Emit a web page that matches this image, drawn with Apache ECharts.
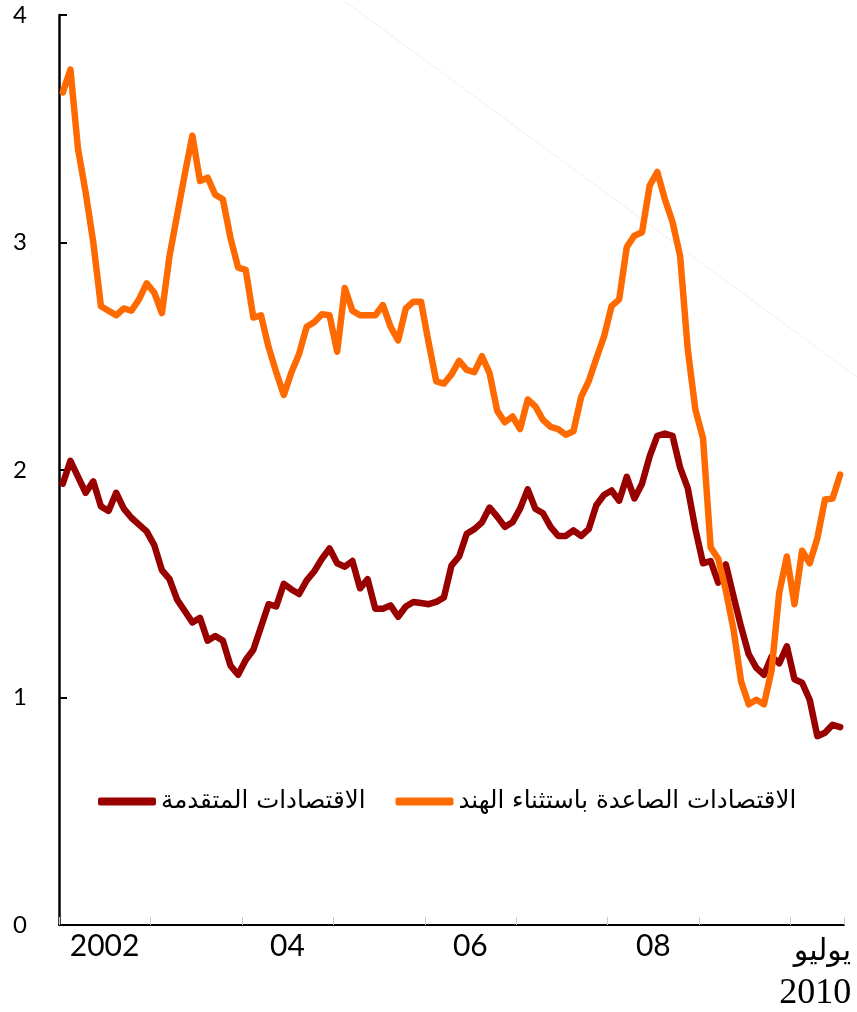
<!DOCTYPE html>
<html>
<head>
<meta charset="utf-8">
<script src="https://cdn.jsdelivr.net/npm/echarts@6/dist/echarts.min.js"></script>
<style>html,body{margin:0;padding:0;background:#fff}#c{width:857px;height:1012px}</style>
</head>
<body>
<div id="c"></div>
<script>
// Monthly categories Jan 2002 .. Jul 2010
const months = [];
for (let y = 2002; y <= 2010; y++) {
  for (let m = 1; m <= 12; m++) {
    if (y === 2010 && m > 7) break;
    months.push(y + '-' + (m < 10 ? '0' + m : m));
  }
}
const seriesNames = ['الاقتصادات المتقدمة', 'الاقتصادات الصاعدة باستثناء الهند'];
const advanced = [
  1.94, 2.04, 1.97, 1.90, 1.95, 1.84, 1.82, 1.90, 1.83, 1.79, 1.76, 1.73,
  1.67, 1.56, 1.52, 1.43, 1.38, 1.33, 1.35, 1.25, 1.27, 1.25, 1.14, 1.10,
  1.165, 1.21, 1.31, 1.41, 1.40, 1.50, 1.475, 1.455, 1.515, 1.555, 1.61, 1.655,
  1.59, 1.575, 1.60, 1.48, 1.52, 1.39, 1.39, 1.405, 1.355, 1.40, 1.42, 1.415,
  1.41, 1.42, 1.44, 1.58, 1.62, 1.72, 1.74, 1.77, 1.835, 1.795, 1.75, 1.77,
  1.83, 1.915, 1.83, 1.81, 1.75, 1.71, 1.71, 1.735, 1.71, 1.74, 1.845, 1.89,
  1.91, 1.865, 1.97, 1.875, 1.94, 2.06, 2.15, 2.16, 2.15, 2.01, 1.92, 1.74,
  1.59, 1.60, 1.505, 1.585, 1.445, 1.31, 1.19, 1.13, 1.10, 1.18, 1.15, 1.225,
  1.08, 1.065, 0.99, 0.83, 0.845, 0.88, 0.87
];
const emergingExIndia = [
  3.66, 3.76, 3.41, 3.22, 3.00, 2.72, 2.70, 2.68, 2.71, 2.70, 2.75, 2.82,
  2.78, 2.69, 2.94, 3.12, 3.30, 3.47, 3.27, 3.285, 3.21, 3.19, 3.02, 2.89,
  2.88, 2.67, 2.68, 2.54, 2.43, 2.33, 2.43, 2.51, 2.63, 2.65, 2.685, 2.68,
  2.52, 2.80, 2.70, 2.68, 2.68, 2.68, 2.725, 2.63, 2.57, 2.71, 2.74, 2.74,
  2.56, 2.39, 2.38, 2.42, 2.48, 2.44, 2.43, 2.50, 2.425, 2.26, 2.21, 2.235,
  2.18, 2.31, 2.28, 2.22, 2.19, 2.18, 2.155, 2.17, 2.32, 2.39, 2.49, 2.585,
  2.72, 2.75, 2.98, 3.03, 3.045, 3.25, 3.31, 3.19, 3.09, 2.94, 2.53, 2.265,
  2.14, 1.66, 1.61, 1.47, 1.30, 1.07, 0.97, 0.99, 0.97, 1.12, 1.46, 1.62,
  1.41, 1.645, 1.59, 1.70, 1.87, 1.875, 1.98
];
const xLabelIndex = [6, 30, 54, 78, 102];
const xLabelText = ['2002', '04', '06', '08', '{a|يوليو}\n{b|2010}'];
const yTicks = [0, 1, 2, 3, 4];

const catData = months.map((m, i) => {
  if (i === months.length - 1) {
    return { value: m, textStyle: { padding: [0, 50, 0, 0] } };
  }
  return m;
});

const chart = echarts.init(document.getElementById('c'), null, { renderer: 'canvas' });
chart.setOption({
  backgroundColor: '#ffffff',
  animation: false,
  grid: { left: 59, right: 13, top: 15, bottom: 87, containLabel: false },
  legend: {
    data: seriesNames,
    left: 93, top: 784,
    itemWidth: 58, itemHeight: 8, itemGap: 30,
    icon: 'roundRect',
    textStyle: { fontSize: 24.5, color: '#000', fontFamily: 'DejaVu Sans' }
  },
  graphic: [{
    type: 'line', z: 0, silent: true,
    shape: { x1: 343, y1: 0, x2: 857, y2: 377 },
    style: { stroke: '#eef0ee', lineWidth: 1 }
  }],
  xAxis: {
    type: 'category',
    data: catData,
    boundaryGap: true,
    axisLine: { show: true, lineStyle: { color: '#000', width: 2 } },
    axisTick: {
      show: true, inside: true, length: 8,
      interval: (i) => i % 12 === 0,
      lineStyle: { color: '#c5ccd6', width: 1 }
    },
    axisLabel: {
      interval: (i) => xLabelIndex.indexOf(i) >= 0,
      formatter: (v, i) => {
        const k = xLabelIndex.indexOf(i);
        return k >= 0 ? xLabelText[k] : '';
      },
      color: '#000', fontSize: 30, fontFamily: 'Lato', margin: 6,
      padding: [0, 8, 0, 0],
      rich: {
        a: { fontSize: 30, fontFamily: 'DejaVu Sans', lineHeight: 42, align: 'right', color: '#000' },
        b: { fontSize: 36, fontFamily: 'Liberation Serif', lineHeight: 42, align: 'right', color: '#000' }
      }
    },
    splitLine: { show: false }
  },
  yAxis: {
    type: 'value', min: 0, max: 4, interval: 1,
    axisLine: { show: true, lineStyle: { color: '#000', width: 2.5 } },
    axisTick: { show: true, inside: true, length: 8, lineStyle: { color: '#000', width: 2 } },
    axisLabel: {
      color: '#000', fontSize: 24, fontFamily: 'Lato', margin: 32,
      formatter: (v) => yTicks.indexOf(v) >= 0 ? String(v) : ''
    },
    splitLine: { show: false }
  },
  series: [
    {
      name: seriesNames[0], type: 'line', data: advanced, symbol: 'none',
      itemStyle: { color: '#990000' },
      lineStyle: { color: '#990000', width: 6.5, join: 'round', cap: 'round' }
    },
    {
      name: seriesNames[1], type: 'line', data: emergingExIndia, symbol: 'none',
      itemStyle: { color: '#ff6a00' },
      lineStyle: { color: '#ff6a00', width: 6.5, join: 'round', cap: 'round' }
    }
  ]
});
</script>
</body>
</html>
